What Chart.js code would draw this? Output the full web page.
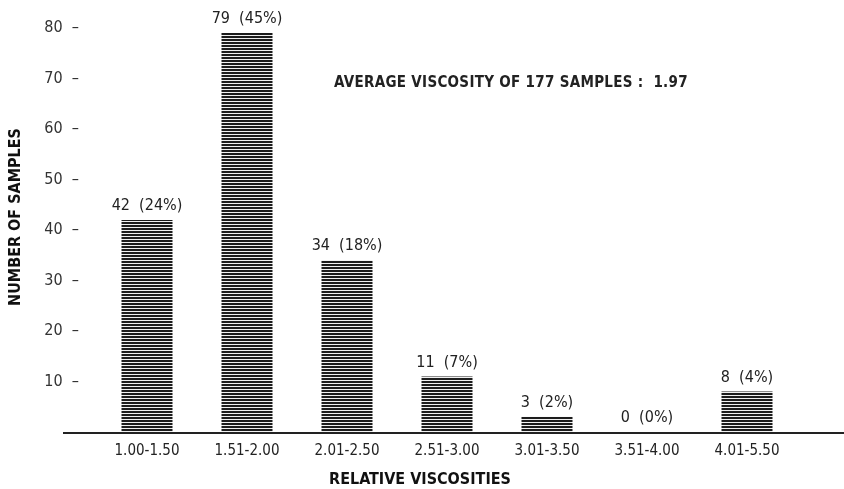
<!DOCTYPE html>
<html>
<head>
<meta charset="utf-8">
<script src="https://cdn.jsdelivr.net/npm/chart.js@4"></script>
<style>
  html, body { margin: 0; padding: 0; background: #fff; }
  #wrap { width: 844px; height: 489px; }
</style>
</head>
<body>
<div id="wrap"><canvas id="viscChart" width="844" height="489"></canvas></div>
<script>
// data
const ranges = ['1.00-1.50', '1.51-2.00', '2.01-2.50', '2.51-3.00', '3.01-3.50', '3.51-4.00', '4.01-5.50'];
const sampleCounts = [42, 79, 34, 11, 3, 0, 8];
const percents = [24, 45, 18, 7, 2, 0, 4];
const yTicks = [10, 20, 30, 40, 50, 60, 70, 80];

const noteText = 'AVERAGE VISCOSITY OF 177 SAMPLES :  1.97';
const xTitle = 'RELATIVE VISCOSITIES';
const yTitle = 'NUMBER OF SAMPLES';

const numFont = '"DejaVu Sans Condensed", sans-serif';
const heavyFont = '"DejaVu Sans Condensed", sans-serif';

// horizontal hatch for the bars
const pc = document.createElement('canvas');
pc.width = 4;
pc.height = 3;
const pctx = pc.getContext('2d');
pctx.fillStyle = '#f0f0f0';
pctx.fillRect(0, 0, 4, 3);
pctx.fillStyle = '#1c1c1c';
pctx.fillRect(0, 0, 4, 2);

const ctx = document.getElementById('viscChart').getContext('2d');
const stripes = ctx.createPattern(pc, 'repeat');

// labels over bars, baseline, note and axis titles
const extras = {
    id: 'extras',
    afterDraw(chart) {
        const c = chart.ctx;
        const meta = chart.getDatasetMeta(0);
        const y0 = chart.scales.y.getPixelForValue(0);
        c.save();

        // long baseline
        c.strokeStyle = '#222';
        c.lineWidth = 2;
        c.beginPath();
        c.moveTo(63, y0 + 1);
        c.lineTo(chart.width, y0 + 1);
        c.stroke();

        // value labels
        c.fillStyle = '#222';
        c.font = '16px ' + numFont;
        c.textAlign = 'center';
        c.textBaseline = 'bottom';
        meta.data.forEach((bar, i) => {
            c.fillText(sampleCounts[i] + '  (' + percents[i] + '%)', bar.x, bar.y - 6);
        });

        // note
        c.font = 'bold 15px "DejaVu Sans Condensed", sans-serif';
        c.textAlign = 'left';
        c.textBaseline = 'middle';
        c.letterSpacing = '0.3px';
        c.fillText(noteText, 334, 83);

        // x title
        c.fillStyle = '#111';
        c.font = 'bold 16px ' + heavyFont;
        c.textAlign = 'center';
        c.letterSpacing = '0px';
        c.fillText(xTitle, 420, 480);

        // y title
        c.translate(16, 217);
        c.rotate(-Math.PI / 2);
        c.fillText(yTitle, 0, 0);
        c.restore();
    }
};

new Chart(ctx, {
    type: 'bar',
    data: {
        labels: ranges,
        datasets: [{
            data: sampleCounts,
            backgroundColor: stripes,
            borderWidth: 0,
            barPercentage: 0.51,
            categoryPercentage: 1
        }]
    },
    options: {
        responsive: false,
        animation: false,
        layout: { padding: { left: 0, right: 47, top: 28, bottom: 26 } },
        plugins: {
            legend: { display: false },
            tooltip: { enabled: false }
        },
        scales: {
            x: {
                grid: { display: false, drawTicks: false },
                border: { display: false },
                ticks: {
                    color: '#222',
                    padding: 10,
                    font: { family: numFont, size: 15 }
                },
                afterFit(scale) { scale.height = 31; }
            },
            y: {
                min: 0,
                max: 80,
                grid: { display: false, drawTicks: false },
                border: { display: false },
                afterBuildTicks(scale) {
                    scale.ticks = yTicks.map(v => ({ value: v }));
                },
                ticks: {
                    color: '#333',
                    padding: 18,
                    font: { family: numFont, size: 16 },
                    callback: (v) => v + '  \u2013'
                },
                afterFit(scale) { scale.width = 97; }
            }
        }
    },
    plugins: [extras]
});
</script>
</body>
</html>
